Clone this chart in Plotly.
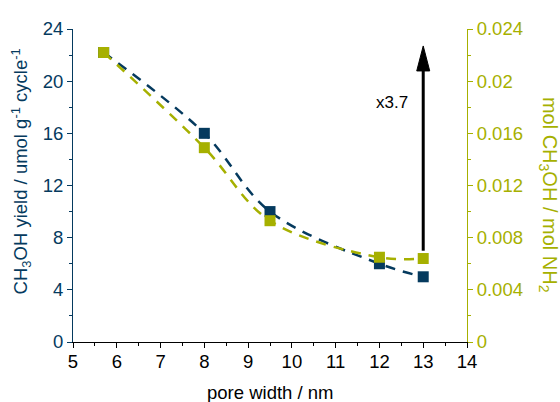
import plotly.graph_objects as go

# ---- data ----
pore_width = [5.7, 8.0, 9.5, 12.0, 13.0]
yield_umol = [22.2, 16.0, 10.0, 6.0, 5.0]
mol_ratio = [0.0222, 0.0149, 0.0093, 0.0065, 0.0064]
x_ticks = [5, 6, 7, 8, 9, 10, 11, 12, 13, 14]
y1_ticks = [0, 4, 8, 12, 16, 20, 24]
y2_ticks = [0, 0.004, 0.008, 0.012, 0.016, 0.02, 0.024]
arrow_x = 13.0
arrow_y_start = 7.0
arrow_y_end = 22.7
arrow_label = "x3.7"
label_x = 12.29
label_y = 18.4

BLUE = "#053a5e"
GREEN = "#a6b000"
FONT = "Liberation Sans, Arial, sans-serif"
FS = 18.5

L, R, T, B = 73, 93, 29, 60
W, H = 560, 402
plot_w = W - L - R
plot_h = H - T - B
x_range = [5, 14]
y_range = [0, 24]
px_per_x = plot_w / (x_range[1] - x_range[0])
px_per_y = plot_h / (y_range[1] - y_range[0])

fig = go.Figure()

fig.add_trace(go.Scatter(
    x=pore_width, y=yield_umol, mode="lines+markers",
    line=dict(color=BLUE, width=2.5, dash="10px,8px", shape="spline", smoothing=1),
    marker=dict(symbol="square", size=11, color=BLUE),
    showlegend=False, yaxis="y", xaxis="x"))

fig.add_trace(go.Scatter(
    x=pore_width, y=mol_ratio, mode="lines+markers",
    line=dict(color=GREEN, width=2.5, dash="10px,8px", shape="spline", smoothing=1),
    marker=dict(symbol="square", size=11, color=GREEN),
    showlegend=False, yaxis="y2", xaxis="x"))

# arrow: shaft + narrow head
head_h = 25 / px_per_y
head_w = 13 / px_per_x
fig.add_shape(type="line", xref="x", yref="y",
              x0=arrow_x, x1=arrow_x, y0=arrow_y_start, y1=arrow_y_end - head_h + 0.2,
              line=dict(color="black", width=3))
fig.add_shape(type="path", xref="x", yref="y",
              path=f"M {arrow_x - head_w/2},{arrow_y_end - head_h} L {arrow_x + head_w/2},{arrow_y_end - head_h} L {arrow_x},{arrow_y_end} Z",
              fillcolor="black", line=dict(color="black", width=1))

fig.add_annotation(x=label_x, y=label_y, xref="x", yref="y", text=arrow_label,
                   showarrow=False, font=dict(family=FONT, size=17, color="black"))

# axis titles
fig.add_annotation(xref="paper", yref="paper", x=0, y=0.545, xshift=-52,
                   text="CH<sub>3</sub>OH yield / umol g<sup>-1</sup> cycle<sup>-1</sup>",
                   textangle=-90, showarrow=False, xanchor="center", yanchor="middle",
                   font=dict(family=FONT, size=FS, color=BLUE))
fig.add_annotation(xref="paper", yref="paper", x=1, y=0.47, xshift=81,
                   text="mol CH<sub>3</sub>OH / mol NH<sub>2</sub>",
                   textangle=90, showarrow=False, xanchor="center", yanchor="middle",
                   font=dict(family=FONT, size=20, color=GREEN))
fig.add_annotation(xref="paper", yref="paper", x=0.5, y=0, yshift=-50,
                   text="pore width / nm", showarrow=False,
                   xanchor="center", yanchor="middle",
                   font=dict(family=FONT, size=FS, color="black"))

fig.update_layout(
    width=W, height=H,
    margin=dict(l=L, r=R, t=T, b=B, autoexpand=False),
    plot_bgcolor="white", paper_bgcolor="white",
    font=dict(family=FONT, size=FS, color="black"),
    xaxis=dict(range=x_range, tickvals=x_ticks, ticks="outside", ticklen=5, tickwidth=1,
               tickcolor="black", showline=True, linecolor="black", linewidth=1,
               showgrid=False, zeroline=False, ticklabelstandoff=-2,
               minor=dict(dtick=0.5, ticklen=3, tickcolor="black", ticks="outside", showgrid=False),
               tickfont=dict(family=FONT, size=FS, color="black")),
    xaxis2=dict(range=x_range, overlaying="x", side="top", tickvals=x_ticks, ticks="inside",
                ticklen=5, tickcolor="#333333", showline=True, linecolor="#555555", linewidth=1,
                showticklabels=False, showgrid=False, zeroline=False,
                minor=dict(dtick=0.5, ticklen=3, tickcolor="#333333", ticks="inside", showgrid=False)),
    yaxis=dict(range=y_range, tickvals=y1_ticks, ticks="outside", ticklen=5, tickcolor=BLUE,
               showline=True, linecolor=BLUE, linewidth=1, showgrid=False, zeroline=False,
               minor=dict(dtick=2, ticklen=3, tickcolor=BLUE, ticks="outside", showgrid=False),
               tickfont=dict(family=FONT, size=FS, color=BLUE)),
    yaxis2=dict(range=[0, 0.024], tickvals=y2_ticks, overlaying="y", side="right",
                ticks="outside", ticklen=5, tickcolor=GREEN, showline=True, linecolor=GREEN,
                linewidth=1, showgrid=False, zeroline=False,
                minor=dict(dtick=0.002, ticklen=3, tickcolor=GREEN, ticks="outside", showgrid=False),
                tickfont=dict(family=FONT, size=FS, color=GREEN)),
)

fig.write_html("out.html", config={"displayModeBar": False},
               post_script="document.body.style.margin='0';")
